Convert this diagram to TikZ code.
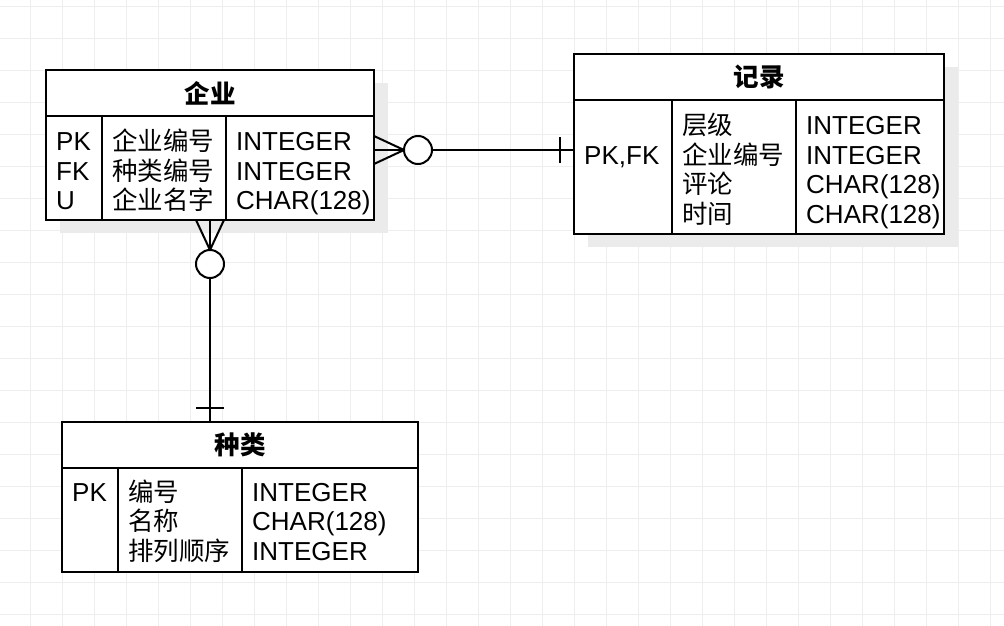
\documentclass[tikz,border=0pt]{standalone}
\usepackage{fontspec}
\setmainfont{Liberation Sans}
\newfontfamily\cjk{Noto Sans CJK SC}
\usetikzlibrary{calc}
\definecolor{gridc}{HTML}{EEEEEE}
\definecolor{shadowc}{HTML}{EBEBEB}
\begin{document}
\begin{tikzpicture}[x=1pt,y=-1pt,
  entity/.style={draw, line width=2pt, fill=white, rectangle, inner sep=0pt, outer sep=0pt, anchor=north west},
  shadowbox/.style={fill=shadowc, draw=none, rectangle, inner sep=0pt, outer sep=0pt, anchor=north west},
  sep/.style={line width=2pt},
  txt/.style={anchor=base west, inner sep=0pt, font=\fontsize{26}{30}\selectfont},
  ctxt/.style={anchor=base west, inner sep=0pt, font=\fontsize{25.5}{30}\selectfont\cjk},
  head/.style={anchor=center, inner sep=0pt, font=\fontsize{25.5}{30}\selectfont\cjk\bfseries},
  conn/.style={line width=2pt},
  ocircle/.style={draw, line width=2pt, fill=white, circle, minimum size=28pt, inner sep=0pt, outer sep=0pt}
]
\useasboundingbox (0,0) rectangle (1004,626);
\fill[white] (0,0) rectangle (1004,626);
% grid
\foreach \gx in {0,...,31} { \draw[gridc, line width=1pt] ({30.3+32*\gx},0) -- ({30.3+32*\gx},626); }
\foreach \gy in {0,...,19} { \draw[gridc, line width=1pt] (0,{6.3+32*\gy}) -- (1004,{6.3+32*\gy}); }

% shadows
\node[shadowbox, minimum width=328pt, minimum height=150pt] (qys) at (60,83) {};
\node[shadowbox, minimum width=370pt, minimum height=180pt] (jls) at (588,67) {};

% entity 企业
\node[entity, minimum width=328pt, minimum height=150pt] (qy) at (46,70) {};
\draw[sep] (46,116) -- (374,116);
\draw[sep] (102,116) -- (102,220);
\draw[sep] (226,116) -- (226,220);
\node[head] (qyh) at (210,93) {企业};
\node[txt] (qy1) at (56,150.7) {PK};
\node[txt] (qy2) at (56,180.2) {FK};
\node[txt] (qy3) at (56,209.7) {U};
\node[ctxt] (qy4) at (112,150.7) {企业编号};
\node[ctxt] (qy5) at (112,180.2) {种类编号};
\node[ctxt] (qy6) at (112,209.7) {企业名字};
\node[txt] (qy7) at (236,150.7) {INTEGER};
\node[txt] (qy8) at (236,180.2) {INTEGER};
\node[txt] (qy9) at (236,209.7) {CHAR(128)};

% entity 记录
\node[entity, minimum width=370pt, minimum height=180pt] (jl) at (574,54) {};
\draw[sep] (574,100) -- (944,100);
\draw[sep] (672,100) -- (672,234);
\draw[sep] (796,100) -- (796,234);
\node[head] (jlh) at (759,77) {记录};
\node[txt] (jl0) at (584,164) {PK,FK};
\node[ctxt] (jl1) at (682,134.5) {层级};
\node[ctxt] (jl2) at (682,164) {企业编号};
\node[ctxt] (jl3) at (682,193.5) {评论};
\node[ctxt] (jl4) at (682,223) {时间};
\node[txt] (jl5) at (806,134.5) {INTEGER};
\node[txt] (jl6) at (806,164) {INTEGER};
\node[txt] (jl7) at (806,193.5) {CHAR(128)};
\node[txt] (jl8) at (806,223) {CHAR(128)};

% entity 种类
\node[entity, minimum width=356pt, minimum height=150pt] (zl) at (62,422) {};
\draw[sep] (62,468) -- (418,468);
\draw[sep] (118,468) -- (118,572);
\draw[sep] (242,468) -- (242,572);
\node[head] (zlh) at (240,445) {种类};
\node[txt] (zl0) at (72,501) {PK};
\node[ctxt] (zl1) at (128,501) {编号};
\node[ctxt] (zl2) at (128,530.5) {名称};
\node[ctxt] (zl3) at (128,560) {排列顺序};
\node[txt] (zl4) at (252,501) {INTEGER};
\node[txt] (zl5) at (252,530.5) {CHAR(128)};
\node[txt] (zl6) at (252,560) {INTEGER};

% connector 企业 -- 记录
\coordinate (c1a) at (374,150);
\coordinate (c1t) at (374,136);
\coordinate (c1b) at (374,164);
\coordinate (c1tip) at (404,150);
\coordinate (c1z) at (574,150);
\coordinate (c1bar1) at (560,137);
\coordinate (c1bar2) at (560,163);
\node[ocircle] (o1) at (418,150) {};
\draw[conn] (c1t) -- (c1tip);
\draw[conn] (c1b) -- (c1tip);
\draw[conn] (c1a) -- (o1.west);
\draw[conn] (o1.east) -- (c1z);
\draw[conn] (c1bar1) -- (c1bar2);

% connector 企业 -- 种类
\coordinate (c2a) at (210,220);
\coordinate (c2l) at (196,220);
\coordinate (c2r) at (224,220);
\coordinate (c2tip) at (210,250);
\coordinate (c2z) at (210,422);
\coordinate (c2bar1) at (196,408);
\coordinate (c2bar2) at (224,408);
\node[ocircle] (o2) at (210,264) {};
\draw[conn] (c2l) -- (c2tip);
\draw[conn] (c2r) -- (c2tip);
\draw[conn] (c2a) -- (o2.north);
\draw[conn] (o2.south) -- (c2z);
\draw[conn] (c2bar1) -- (c2bar2);
\end{tikzpicture}
\end{document}
